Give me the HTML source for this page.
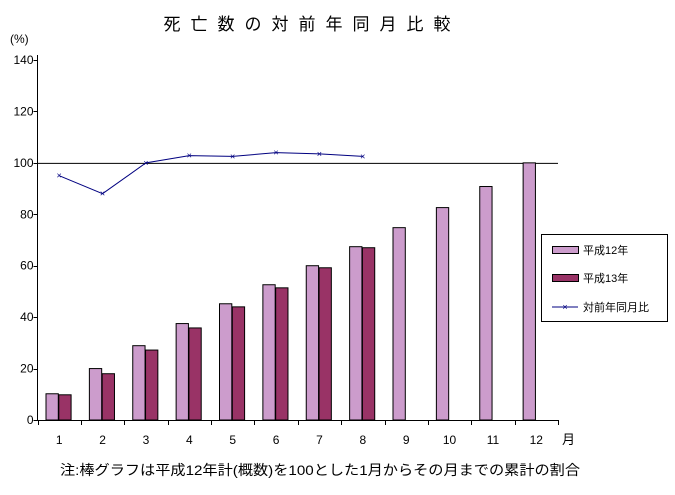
<!DOCTYPE html>
<html><head><meta charset="utf-8"><style>
body{margin:0;background:#fff;}
svg text{font-family:"Liberation Sans","Noto Sans CJK JP",sans-serif;fill:#000;}
</style></head><body>
<svg width="675" height="490" viewBox="0 0 675 490" xmlns="http://www.w3.org/2000/svg">
<g id="plot"></g>
<text x="312" y="30" font-size="17" text-anchor="middle" letter-spacing="10">死亡数の対前年同月比較</text>
<text x="10" y="43" font-size="12">(%)</text>
<text x="562" y="444" font-size="13">月</text>
<text x="60" y="475" font-size="14" textLength="520" lengthAdjust="spacingAndGlyphs">注:棒グラフは平成12年計(概数)を100とした1月からその月までの累計の割合</text>
<g>
<rect x="541.5" y="234.5" width="126" height="87" fill="#fff" stroke="#000"/>
<rect x="552.5" y="246.5" width="26" height="7" fill="#cc9ccc" stroke="#000"/>
<text x="583" y="254" font-size="11">平成12年</text>
<rect x="552.5" y="274.5" width="26" height="7" fill="#993366" stroke="#000"/>
<text x="583" y="282" font-size="11">平成13年</text>
<line x1="552" y1="307" x2="578" y2="307" stroke="#000080"/>
<text x="565" y="310" font-size="9" text-anchor="middle" fill="#000080" style="fill:#000080">×</text>
<text x="583" y="311" font-size="11">対前年同月比</text>
</g>
</svg>
<script>
const categories=["1","2","3","4","5","6","7","8","9","10","11","12"];
const h12=[10.2,20,28.9,37.5,45.2,52.6,60,67.4,74.8,82.6,90.8,100];
const h13=[9.8,18,27.2,35.8,44,51.4,59.2,67];
const ratio=[95,88,100,102.8,102.5,104,103.5,102.5];
const yTicks=[0,20,40,60,80,100,120,140];
const NS="http://www.w3.org/2000/svg";
const x0=37.5,x1=558,y0=420,yMax=140,yTop=60;
const bw=(x1-x0)/categories.length;
function y(v){return y0-(v/yMax)*(y0-yTop);}
function xc(i){return x0+bw*i;}
const g=document.getElementById('plot');
function el(t,a,p){const e=document.createElementNS(NS,t);for(const k in a)e.setAttribute(k,a[k]);(p||g).appendChild(e);return e;}
let e=el('line',{x1:x0,y1:yTop-5,x2:x0,y2:y0,stroke:'#000'});


e=el('line',{x1:x0,y1:y0+0.5,x2:x1,y2:y0+0.5,stroke:'#000'});


e=el('line',{x1:x0,y1:y(100)+0.5,x2:x1,y2:y(100)+0.5,stroke:'#000'});


yTicks.forEach(v=>{
 el('line',{x1:x0-4,y1:Math.round(y(v))+0.5,x2:x0,y2:Math.round(y(v))+0.5,stroke:'#000'});
 const t=el('text',{x:x0-4,y:y(v)+4,'font-size':'12','text-anchor':'end'});t.textContent=v;
 
 
});
for(let i=0;i<=categories.length;i++){el('line',{x1:Math.round(xc(i))+0.5,y1:y0,x2:Math.round(xc(i))+0.5,y2:y0+5,stroke:'#000'});}
categories.forEach((c,i)=>{
 const t=el('text',{x:xc(i)+bw/2,y:y0+24,'font-size':'12','text-anchor':'middle'});t.textContent=c;
 
 
});
const bW=12.3;
h12.forEach((v,i)=>{
 const r=el('rect',{x:xc(i)+8.5,y:y(v),width:bW,height:y0-y(v),fill:'#cc9ccc',stroke:'#000'});
 
 
});
h13.forEach((v,i)=>{
 const r=el('rect',{x:xc(i)+8.5+bW+0.5,y:y(v),width:bW,height:y0-y(v),fill:'#993366',stroke:'#000'});
 
 
});
const pts=ratio.map((v,i)=>[xc(i)+bw/2,y(v)]);
const pl=el('polyline',{points:pts.map(p=>p.join(',')).join(' '),fill:'none',stroke:'#000080','stroke-width':'1'});


pts.forEach(p=>{
 const t=el('text',{x:p[0],y:p[1]+3,'font-size':'9','text-anchor':'middle',style:'fill:#000080'});t.textContent='×';
 
 
});
</script>
</body></html>
